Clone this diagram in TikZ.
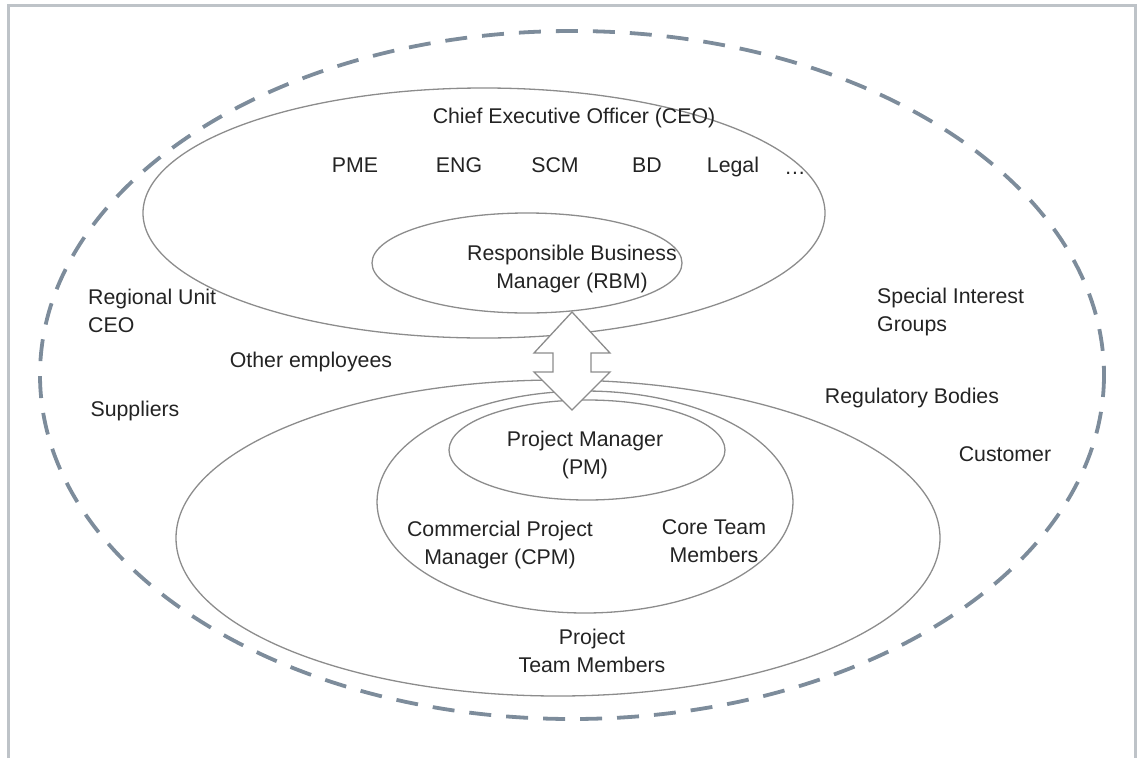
\documentclass[tikz,border=0pt]{standalone}
\usepackage{fontspec}
\setmainfont{Liberation Sans}
\usepackage{tikz}
\usetikzlibrary{calc}
\definecolor{framegray}{RGB}{190,195,200}
\definecolor{dashgray}{RGB}{125,140,155}
\definecolor{linegray}{RGB}{140,140,140}
\definecolor{txtgray}{RGB}{35,35,35}

\begin{document}
\begin{tikzpicture}[x=1pt, y=-1pt, every node/.style={font=\fontsize{21.3}{27.5}\selectfont, text=txtgray, align=center, inner sep=0pt},
	oneline/.style={text height=15.3pt, text depth=4.5pt},
	ring/.style={draw=linegray, line width=1.3pt},
	outerring/.style={draw=dashgray, line width=3.8pt, dash pattern=on 22pt off 15pt}]
		\useasboundingbox (0,0) rectangle (1138,758);
		% frame
		\draw[framegray, line width=3pt] (8,758) -- (8,5) -- (1135,5) -- (1135,758);
		% stakeholder rings
		\coordinate (outer) at (572,375);
		\coordinate (ceo) at (484,213);
		\coordinate (rbm) at (527,263);
		\coordinate (team) at (558,538);
		\coordinate (core) at (585,502);
		\coordinate (pm) at (587,450);
		\draw[outerring] (outer) ellipse [x radius=532, y radius=344];
		\draw[ring] (ceo) ellipse [x radius=341, y radius=125];
		\draw[ring] (rbm) ellipse [x radius=155, y radius=50];
		\draw[ring] (team) ellipse [x radius=382, y radius=158];
		\draw[ring] (core) ellipse [x radius=208, y radius=111];
		\draw[ring] (pm) ellipse [x radius=138, y radius=50];
		% double arrow between RBM and PM
		\def\ax{572}
		\draw[linegray, line width=1.3pt, fill=white]
			(\ax,312) -- (\ax+38,353) -- (\ax+19,353) -- (\ax+19,372) -- (\ax+38,372)
			-- (\ax,410) -- (\ax-38,372) -- (\ax-19,372) -- (\ax-19,353) -- (\ax-38,353) -- cycle;
		% labels
		\node[oneline] (lceo) at (574,118) {Chief Executive Officer (CEO)};
		\foreach \name/\x in {PME/355, ENG/459, SCM/555, BD/647, Legal/733}
		{
			\node[oneline] (l\name) at (\x,167) {\name};
		}
		\node[oneline] (ldots) at (795,169) {\dots};
		\node (lrbm) at (572,269) {Responsible Business\\Manager (RBM)};
		\node[align=left, anchor=west] (lregional) at (88,311) {Regional Unit\\CEO};
		\node[oneline] (lother) at (311,362) {Other employees};
		\node[oneline] (lsuppliers) at (135,411) {Suppliers};
		\node[align=left, anchor=west] (lspecial) at (877,312) {Special Interest\\Groups};
		\node[oneline] (lregulatory) at (912,398) {Regulatory Bodies};
		\node[oneline] (lcustomer) at (1005,456) {Customer};
		\node (lpm) at (585,455) {Project Manager\\(PM)};
		\node (lcpm) at (500,545) {Commercial Project\\Manager (CPM)};
		\node (lcore) at (714,541) {Core Team\\Members};
		\node (lteam) at (592,651) {Project\\Team Members};
\end{tikzpicture}
\end{document}
